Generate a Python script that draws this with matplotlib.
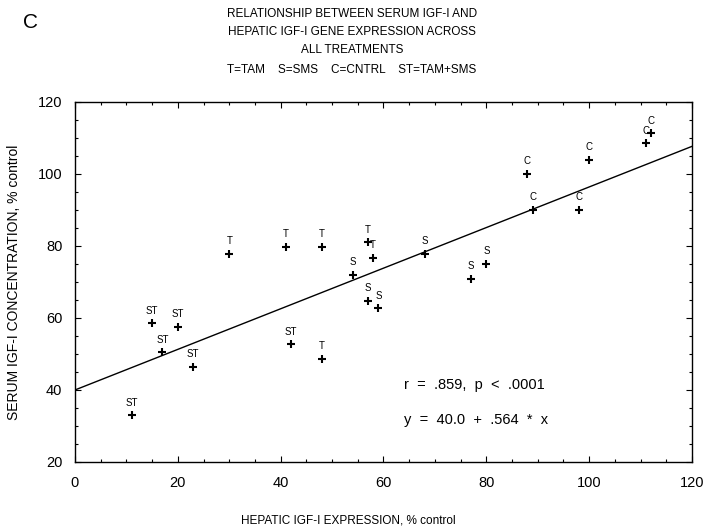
import numpy as np
import matplotlib
matplotlib.use("Agg")
import matplotlib.pyplot as plt
from matplotlib.ticker import MultipleLocator

# hepatic IGF-I expression (% control) and serum IGF-I (% control), by group
st_x = [11, 15, 17, 20, 23, 42]
st_y = [33, 58.5, 50.5, 57.5, 46.5, 52.7]
t_x = [30, 41, 48, 48, 57, 58]
t_y = [77.8, 79.8, 79.8, 48.6, 81, 76.8]
s_x = [54, 57, 59, 68, 77, 80]
s_y = [72, 64.7, 62.7, 77.8, 70.8, 75]
c_x = [88, 89, 98, 100, 111, 112]
c_y = [100, 90, 90, 104, 108.5, 111.3]

groups = [("ST", st_x, st_y), ("T", t_x, t_y), ("S", s_x, s_y), ("C", c_x, c_y)]

intercept = 40.0
slope = 0.564
r_text = "r  =  .859,  p  <  .0001"
eq_text = "y  =  40.0  +  .564  *  x"

narrow = ["Liberation Sans Narrow", "Liberation Sans", "DejaVu Sans"]
plain = ["Liberation Sans", "DejaVu Sans"]

fig = plt.figure(figsize=(7.06, 5.29), dpi=100)
ax = fig.add_axes([0.1062, 0.1267, 0.874, 0.6805])

for lab, xs, ys in groups:
    ax.plot(xs, ys, "+", color="black", ms=6, mew=1.5)
    for x, y in zip(xs, ys):
        ax.annotate(lab, (x, y), xytext=(0, 5.5), textcoords="offset points",
                    ha="center", va="bottom", fontsize=7, family=plain)

xl = np.array([0, 120])
ax.plot(xl, intercept + slope * xl, color="black", lw=1)

ax.text(64, 41.4, r_text, fontsize=10.5, va="center", family=plain)
ax.text(64, 31.7, eq_text, fontsize=10.5, va="center", family=plain)

ax.set_xlim(0, 120)
ax.set_ylim(20, 120)
ax.xaxis.set_major_locator(MultipleLocator(20))
ax.yaxis.set_major_locator(MultipleLocator(20))
ax.xaxis.set_minor_locator(MultipleLocator(5))
ax.yaxis.set_minor_locator(MultipleLocator(5))
ax.tick_params(which="both", direction="in", top=True, right=True, width=0.8)
ax.tick_params(which="major", length=4, labelsize=10.5)
ax.tick_params(axis="x", which="major", pad=10)
ax.tick_params(axis="y", which="major", pad=9)
for lbl in ax.get_xticklabels() + ax.get_yticklabels():
    lbl.set_family(plain)
for sp in ax.spines.values():
    sp.set_linewidth(1.0)

ax.set_xlabel("HEPATIC IGF-I EXPRESSION, % control", fontsize=8.5, family=narrow)
ax.xaxis.set_label_coords(0.4425, -0.145)
ax.set_ylabel("SERUM IGF-I CONCENTRATION, % control", fontsize=10, family=plain)
ax.yaxis.set_label_coords(-0.088, 0.5)

title = ["RELATIONSHIP BETWEEN SERUM IGF-I AND",
         "HEPATIC IGF-I GENE EXPRESSION ACROSS",
         "ALL TREATMENTS",
         "T=TAM    S=SMS    C=CNTRL    ST=TAM+SMS"]
ys_px = [14, 32, 50, 70]
for line, yp in zip(title, ys_px):
    fig.text(352 / 706, 1 - yp / 529, line, ha="center", va="center", fontsize=8.5, family=narrow)

fig.text(30 / 706, 1 - 22 / 529, "C", ha="center", va="center", fontsize=15, family=plain)

fig.savefig("out.png", dpi=100)
